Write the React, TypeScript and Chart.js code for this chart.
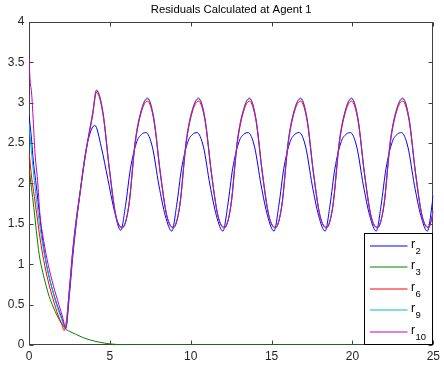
import React, { useEffect, useRef } from 'react';
import { Chart, registerables } from 'chart.js';

Chart.register(...registerables);

const TITLE = 'Residuals Calculated at Agent 1';
const X_TICKS = [0, 5, 10, 15, 20, 25];
const Y_TICKS = [0, 0.5, 1, 1.5, 2, 2.5, 3, 3.5, 4];
const SERIES_NAMES = ['r2', 'r3', 'r6', 'r9', 'r10'];
const SERIES_COLORS = ['#0000ff', '#008000', '#ff0000', '#00bfbf', '#c000c0'];

// r2 (blue)
const r2X = [
  0, 0.16, 0.26, 0.41, 0.57, 0.75, 0.95, 1.2, 1.5, 1.75, 2.0, 2.27,
  2.5, 2.7, 2.92, 3.12, 3.43, 3.74, 4.07, 4.47, 4.87, 5.27, 5.67,
  5.97, 6.27, 6.67, 6.97, 7.23, 7.63, 8.03, 8.43, 8.83,
  9.13, 9.43, 9.83, 10.13, 10.39, 10.79, 11.19, 11.59, 11.99,
  12.29, 12.59, 12.99, 13.29, 13.55, 13.95, 14.35, 14.75, 15.15,
  15.45, 15.75, 16.15, 16.45, 16.71, 17.11, 17.51, 17.91, 18.31,
  18.61, 18.91, 19.31, 19.61, 19.87, 20.27, 20.67, 21.07, 21.47,
  21.77, 22.07, 22.47, 22.77, 23.03, 23.43, 23.83, 24.23, 24.63,
  25,
];
const r2Y = [
  2.85, 2.54, 2.29, 2.04, 1.76, 1.45, 1.15, 0.88, 0.65, 0.49, 0.35, 0.21,
  0.62, 1.08, 1.5, 1.82, 2.3, 2.6, 2.72, 2.45, 2.06, 1.67, 1.42,
  1.73, 2.18, 2.52, 2.61, 2.63, 2.45, 1.98, 1.6, 1.41,
  1.73, 2.18, 2.52, 2.61, 2.63, 2.45, 1.98, 1.6, 1.41,
  1.73, 2.18, 2.52, 2.61, 2.63, 2.45, 1.98, 1.6, 1.41,
  1.73, 2.18, 2.52, 2.61, 2.63, 2.45, 1.98, 1.6, 1.41,
  1.73, 2.18, 2.52, 2.61, 2.63, 2.45, 1.98, 1.6, 1.41,
  1.73, 2.18, 2.52, 2.61, 2.63, 2.45, 1.98, 1.6, 1.41,
  1.85,
];

// r3 (green)
const r3X = [0, 0.15, 0.3, 0.45, 0.63, 0.85, 1.05, 1.25, 1.5, 1.75, 2.0, 2.25, 2.6, 2.92, 3.3, 3.74, 4.35, 4.96, 5.5, 6.0, 25];
const r3Y = [2.2, 1.95, 1.7, 1.42, 1.12, 0.9, 0.74, 0.6, 0.47, 0.36, 0.27, 0.2, 0.16, 0.13, 0.095, 0.065, 0.035, 0.015, 0.005, 0, 0];

// shared x positions of the oscillating part of r6, r9, r10
const upperTailX = [
  2.5, 2.71, 2.92, 3.12, 3.53, 3.94, 4.17,
  4.57, 4.97, 5.37, 5.77,
  6.17, 6.57, 6.97, 7.32, 7.72, 8.12, 8.52, 8.92,
  9.32, 9.72, 10.12, 10.48, 10.88, 11.28, 11.68, 12.08,
  12.48, 12.88, 13.28, 13.63, 14.03, 14.43, 14.83, 15.23,
  15.63, 16.03, 16.43, 16.79, 17.19, 17.59, 17.99, 18.39,
  18.79, 19.19, 19.59, 19.94, 20.34, 20.74, 21.14, 21.54,
  21.94, 22.34, 22.74, 23.1, 23.5, 23.9, 24.3, 24.7,
  25,
];

// r6 (red)
const r6HeadX = [0, 0.16, 0.33, 0.47, 0.7, 0.9, 1.2, 1.5, 1.8, 2.0, 2.18];
const r6HeadY = [2.4, 2.08, 1.84, 1.63, 1.3, 1.06, 0.78, 0.56, 0.37, 0.27, 0.18];
const r6TailY = [
  0.68, 1.17, 1.54, 1.83, 2.4, 2.85, 3.13,
  2.86, 2.17, 1.6, 1.46,
  1.72, 2.5, 2.9, 3.02, 2.78, 2.12, 1.6, 1.46,
  1.72, 2.5, 2.9, 3.02, 2.78, 2.12, 1.6, 1.46,
  1.72, 2.5, 2.9, 3.02, 2.78, 2.12, 1.6, 1.46,
  1.72, 2.5, 2.9, 3.02, 2.78, 2.12, 1.6, 1.46,
  1.72, 2.5, 2.9, 3.02, 2.78, 2.12, 1.6, 1.46,
  1.72, 2.5, 2.9, 3.02, 2.78, 2.12, 1.6, 1.46,
  1.65,
];

// r9 (cyan)
const r9HeadX = [0, 0.06, 0.2, 0.37, 0.55, 0.8, 1.05, 1.4, 1.7, 2.0, 2.24];
const r9HeadY = [2.75, 2.6, 2.29, 1.96, 1.65, 1.3, 1.02, 0.72, 0.5, 0.33, 0.21];
const r9TailY = [
  0.69, 1.18, 1.55, 1.84, 2.41, 2.88, 3.16,
  2.89, 2.19, 1.61, 1.45,
  1.73, 2.53, 2.93, 3.06, 2.81, 2.14, 1.61, 1.45,
  1.73, 2.53, 2.93, 3.06, 2.81, 2.14, 1.61, 1.45,
  1.73, 2.53, 2.93, 3.06, 2.81, 2.14, 1.61, 1.45,
  1.73, 2.53, 2.93, 3.06, 2.81, 2.14, 1.61, 1.45,
  1.73, 2.53, 2.93, 3.06, 2.81, 2.14, 1.61, 1.45,
  1.73, 2.53, 2.93, 3.06, 2.81, 2.14, 1.61, 1.45,
  1.66,
];

// r10 (magenta)
const r10HeadX = [0, 0.06, 0.16, 0.26, 0.37, 0.53, 0.67, 0.9, 1.18, 1.5, 1.85, 2.1, 2.27];
const r10HeadY = [3.57, 3.3, 3.12, 2.79, 2.38, 2.04, 1.63, 1.3, 1.0, 0.74, 0.5, 0.33, 0.2];
const r10TailY = [
  0.7, 1.18, 1.55, 1.84, 2.41, 2.87, 3.15,
  2.88, 2.18, 1.6, 1.45,
  1.72, 2.52, 2.92, 3.05, 2.8, 2.13, 1.6, 1.45,
  1.72, 2.52, 2.92, 3.05, 2.8, 2.13, 1.6, 1.45,
  1.72, 2.52, 2.92, 3.05, 2.8, 2.13, 1.6, 1.45,
  1.72, 2.52, 2.92, 3.05, 2.8, 2.13, 1.6, 1.45,
  1.72, 2.52, 2.92, 3.05, 2.8, 2.13, 1.6, 1.45,
  1.72, 2.52, 2.92, 3.05, 2.8, 2.13, 1.6, 1.45,
  1.65,
];

const FONT = 'Liberation Sans, Arial, Helvetica, sans-serif';

function pts(xs: number[], ys: number[]) {
  return xs.map((x, i) => ({ x, y: ys[i] }));
}

const framePlugin = {
  id: 'matlabFrame',
  beforeDatasetsDraw(chart: any) {
    const { ctx, chartArea, scales } = chart;
    const { left, right, top, bottom } = chartArea;
    const L = Math.round(left) + 0.5;
    const R = Math.round(right) - 0.5;
    const T = Math.round(top) + 0.5;
    const B = Math.round(bottom) - 0.5;
    ctx.save();
    ctx.strokeStyle = '#404040';
    ctx.lineWidth = 1;
    ctx.strokeRect(L, T, R - L, B - T);
    ctx.beginPath();
    const len = 4;
    X_TICKS.forEach((v) => {
      const px = Math.round(scales.x.getPixelForValue(v)) + 0.5;
      ctx.moveTo(px, B);
      ctx.lineTo(px, B - len);
      ctx.moveTo(px, T);
      ctx.lineTo(px, T + len);
    });
    Y_TICKS.forEach((v) => {
      const py = Math.round(scales.y.getPixelForValue(v)) + 0.5;
      ctx.moveTo(L, py);
      ctx.lineTo(L + len, py);
      ctx.moveTo(R, py);
      ctx.lineTo(R - len, py);
    });
    ctx.stroke();
    ctx.restore();
  },
};

const legendPlugin = {
  id: 'matlabLegend',
  afterDraw(chart: any) {
    const { ctx, chartArea } = chart;
    const right = Math.round(chartArea.right) - 0.5;
    const bottom = Math.round(chartArea.bottom) - 0.5;
    const left = right - 68;
    const top = bottom - 111;
    ctx.save();
    ctx.fillStyle = '#ffffff';
    ctx.fillRect(left, top, right - left, bottom - top);
    ctx.strokeStyle = '#000000';
    ctx.lineWidth = 1;
    ctx.strokeRect(left, top, right - left, bottom - top);
    chart.data.datasets.forEach((ds: any, i: number) => {
      const ly = Math.round(top + 12 + i * 21.5);
      ctx.strokeStyle = ds.borderColor;
      ctx.lineWidth = 1;
      ctx.beginPath();
      ctx.moveTo(left + 5.5, ly);
      ctx.lineTo(left + 43, ly);
      ctx.stroke();
      const label: string = ds.label;
      ctx.fillStyle = '#000000';
      ctx.textAlign = 'left';
      ctx.textBaseline = 'alphabetic';
      ctx.font = '12px ' + FONT;
      ctx.fillText(label.slice(0, 1), left + 46.5, ly + 1.5);
      ctx.font = '9.5px ' + FONT;
      ctx.fillText(label.slice(1), left + 51, ly + 8);
    });
    ctx.restore();
  },
};

export default function App() {
  const ref = useRef<HTMLCanvasElement>(null);
  useEffect(() => {
    document.body.style.margin = '0';
    const series = [
      [r2X, r2Y],
      [r3X, r3Y],
      [[...r6HeadX, ...upperTailX], [...r6HeadY, ...r6TailY]],
      [[...r9HeadX, ...upperTailX], [...r9HeadY, ...r9TailY]],
      [[...r10HeadX, ...upperTailX], [...r10HeadY, ...r10TailY]],
    ];
    const chart = new Chart(ref.current as HTMLCanvasElement, {
      type: 'line',
      data: {
        datasets: SERIES_NAMES.map((name, i) => ({
          label: name,
          data: pts(series[i][0] as number[], series[i][1] as number[]),
          borderColor: SERIES_COLORS[i],
          backgroundColor: SERIES_COLORS[i],
          borderWidth: 1,
          pointRadius: 0,
          fill: false,
          cubicInterpolationMode: 'monotone',
          order: SERIES_NAMES.length - i,
        })),
      },
      options: {
        responsive: false,
        animation: false,
        devicePixelRatio: 1,
        layout: { padding: { left: 0, right: 7, top: 0, bottom: 0 } },
        plugins: {
          legend: { display: false },
          tooltip: { enabled: false },
          title: {
            display: true,
            fullSize: false,
            text: TITLE,
            color: '#000000',
            font: { family: FONT, size: 11.3, weight: 'normal' },
            padding: { top: 3.5, bottom: 4.9 },
          },
        },
        scales: {
          x: {
            type: 'linear',
            min: 0,
            max: 25,
            afterBuildTicks: (scale: any) => {
              scale.ticks = X_TICKS.map((v) => ({ value: v }));
            },
            ticks: {
              color: '#262626',
              font: { family: FONT, size: 12 },
              padding: 4,
              maxRotation: 0,
              autoSkip: false,
              callback: (v: any) => String(v),
            },
            grid: { display: false, drawTicks: false },
            border: { display: false },
            afterFit: (scale: any) => {
              scale.height = 20;
            },
          },
          y: {
            type: 'linear',
            min: 0,
            max: 4,
            afterBuildTicks: (scale: any) => {
              scale.ticks = Y_TICKS.map((v) => ({ value: v }));
            },
            ticks: {
              color: '#262626',
              font: { family: FONT, size: 12 },
              padding: 4.5,
              autoSkip: false,
              callback: (v: any) => String(v),
            },
            grid: { display: false, drawTicks: false },
            border: { display: false },
            afterFit: (scale: any) => {
              scale.width = 29;
            },
          },
        },
      } as any,
      plugins: [framePlugin, legendPlugin],
    });
    return () => chart.destroy();
  }, []);
  return <canvas ref={ref} width={444} height={365} style={{ display: 'block' }} />;
}
